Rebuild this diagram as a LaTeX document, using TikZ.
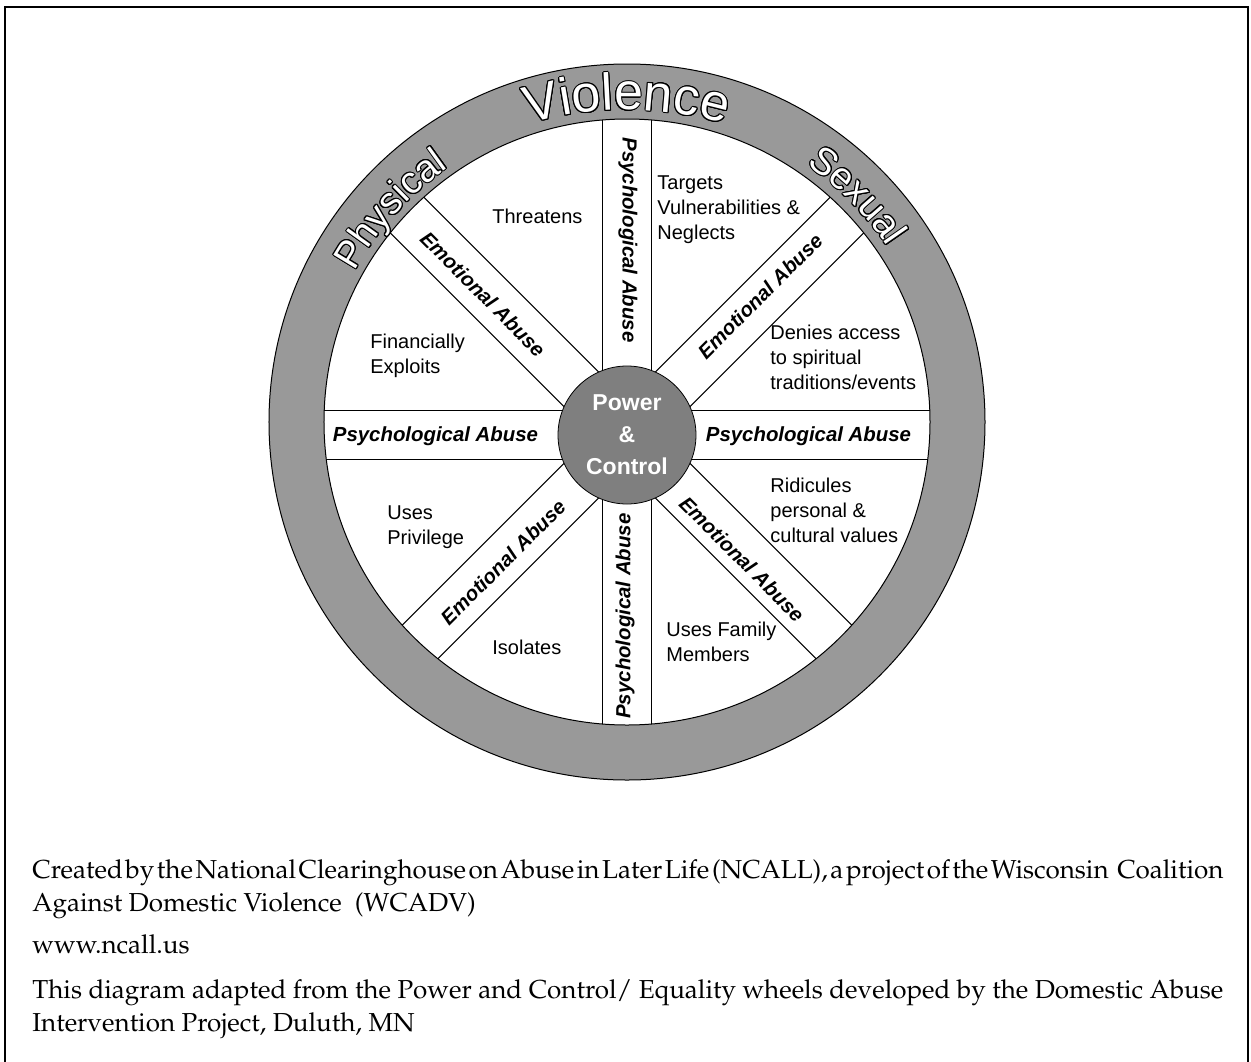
\documentclass[tikz,border=0pt]{standalone}
\usepackage[T1,TU]{fontenc}
\usepackage{fontspec}
\setmainfont{Liberation Sans}
\usepackage[copies]{contour}
\usepackage{tikz}
\usetikzlibrary{positioning,decorations.text}

\definecolor{ringgray}{RGB}{153,153,153}
\definecolor{hubgray}{RGB}{127,127,127}
\contourlength{0.5pt}
\newcommand{\ringchar}[1]{\textcolor{white}{\contour{black}{#1}}}
\newcommand{\footfont}{\fontencoding{T1}\fontfamily{ppl}\fontsize{13}{16.5}\selectfont}
\newcommand{\tsp}{\hspace{0pt plus 1fil}}

\tikzset{
  sector/.style={anchor=base west, align=left, inner sep=0pt,
    font=\fontsize{10}{12.3}\selectfont},
  band/.style={inner sep=0pt, font=\fontsize{10.2}{12}\selectfont\bfseries\itshape},
  spoke/.style={line width=0.5pt},
  ringword/.style 2 args={decorate, font=\fontsize{#2}{#2}\selectfont,
    decoration={text effects along path, text={#1}, text align=center,
      text effects/.cd, text along path, character command=\ringchar,
      characters={font=\fontsize{#2}{#2}\selectfont}}},
  footline/.style={anchor=base west, align=left, inner sep=0pt, font=\footfont},
}

\begin{document}
\begin{tikzpicture}[x=0.5pt, y=0.5pt]
    \useasboundingbox (-627,-639) rectangle (624,422);
    % Frame round the whole sheet
    \draw[line width=1pt] (-622,-645) -- (-622,415) -- (621,415) -- (621,-645);

    % Rim and wheel
    \coordinate (rim) at (0,0);
    \coordinate (hubc) at (0,-13);
    \draw[fill=ringgray, even odd rule, line width=0.5pt] (rim) circle[radius=358] (rim) circle[radius=303];

    % Spokes (pairs of lines, cut at the rim)
    \begin{scope}
        \clip (rim) circle[radius=303];
        \foreach \ang in {0,45,90,135}
            \draw[spoke, shift={(hubc)}, rotate=\ang] (-400,24.5) -- (400,24.5) (-400,-24.5) -- (400,-24.5);
    \end{scope}

    % Hub
    \node[circle, draw, fill=hubgray, minimum size=69pt, inner sep=0pt, align=center, text=white,
          font=\fontsize{11.5}{16}\selectfont\bfseries] (hub) at (hubc) {Power\\\&\\Control};

    % Words on the rim
    \path[ringword={Violence}{26}] (0,-40) ++(118:352) arc[start angle=118, end angle=62, radius=352];
    \path[ringword={Physical}{19}] (rim) ++(168:311) arc[start angle=168, end angle=108, radius=311];
    \path[ringword={Sexual}{19}] (rim) ++(75:314) arc[start angle=75, end angle=14, radius=314];

    % Spoke labels
    \node[band, rotate=-90] (psyN) at (1,182) {Psychological Abuse};
    \node[band, rotate=90] (psyS) at (-2,-194) {Psychological Abuse};
    \node[band] (psyW) at (-191.5,-14) {Psychological Abuse};
    \node[band] (psyE) at (181.5,-14) {Psychological Abuse};
    \node[band, rotate=-45] (emoNW) at (-144,128) {Emotional Abuse};
    \node[band, rotate=45] (emoNE) at (133,126) {Emotional Abuse};
    \node[band, rotate=45] (emoSW) at (-124,-140) {Emotional Abuse};
    \node[band, rotate=-45] (emoSE) at (115,-137) {Emotional Abuse};

    % Sector labels (placed at the baseline of their last line)
    \node[sector] (threat) at (-135,199) {Threatens};
    \node[sector] (target) at (30,183) {Targets\\Vulnerabilities \&\\Neglects};
    \node[sector] (finance) at (-257,49) {Financially\\Exploits};
    \node[sector] (spirit) at (143,33) {Denies access\\to spiritual\\traditions/events};
    \node[sector] (privilege) at (-240,-122) {Uses\\Privilege};
    \node[sector] (ridicule) at (143,-120) {Ridicules\\personal \&\\cultural values};
    \node[sector] (isolate) at (-135,-232) {Isolates};
    \node[sector] (family) at (39,-239) {Uses Family\\Members};

    % Credits
    \node[footline] (credit) at (-595,-489) {\makebox[595.5pt][s]{Created\tsp by\tsp the\tsp National\tsp Clearinghouse\tsp on\tsp Abuse\tsp in\tsp Later\tsp Life\tsp (NCALL),\tsp a\tsp project\tsp of\tsp the\tsp Wisconsin\hspace{3pt plus 1fil}Coalition}\\Against Domestic Violence~ (WCADV)};
    \node[footline] (site) at (-595,-531) {www.ncall.us};
    \node[footline] (source) at (-595,-609) {\makebox[595.5pt][s]{This diagram adapted from the Power and Control/ Equality wheels developed by the Domestic Abuse}\\Intervention Project, Duluth, MN};
\end{tikzpicture}
\end{document}
